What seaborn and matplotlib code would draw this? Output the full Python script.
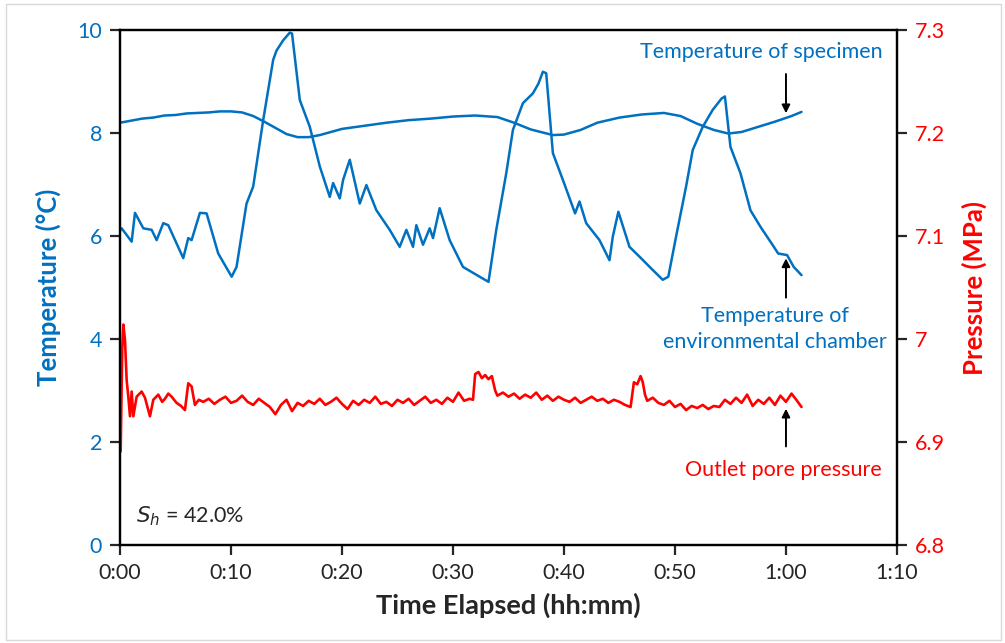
import matplotlib
matplotlib.use("Agg")
import matplotlib.pyplot as plt
import matplotlib.ticker as mticker
import seaborn as sns
import pandas as pd

# time in minutes
spec_t = [0, 1, 2, 3, 4, 5, 6, 7, 8, 9, 10, 11, 12, 13, 14, 15, 16, 17, 18, 19, 20, 22,
          24, 26, 28, 30, 32, 34, 35.5, 37, 39, 40, 41.5, 43, 45, 47, 49, 50.5, 52,
          53.5, 54.8, 56, 57.5, 59, 60.5, 61.4]
spec_T = [8.2, 8.24, 8.28, 8.3, 8.34, 8.35, 8.38, 8.39, 8.4, 8.42, 8.42, 8.4, 8.33,
          8.22, 8.1, 7.98, 7.92, 7.92, 7.96, 8.02, 8.08, 8.14, 8.2, 8.25, 8.28, 8.32,
          8.34, 8.31, 8.2, 8.07, 7.96, 7.97, 8.06, 8.2, 8.3, 8.36, 8.39, 8.33, 8.18,
          8.06, 7.99, 8.02, 8.12, 8.22, 8.33, 8.41]

cham_t = [0, 0.15, 1.05, 1.35, 2.1, 2.85, 3.3, 3.9, 4.35, 5.7, 6.15, 6.45, 7.2, 7.8,
          8.85, 10.06, 10.5, 11.4, 12.0, 12.9, 13.8, 14.1, 14.7, 15.3, 15.5, 16.2,
          17.1, 18.0, 18.9, 19.2, 19.8, 20.1, 20.7, 21.6, 22.2, 23.1, 24.3, 25.2,
          25.8, 26.4, 26.7, 27.3, 27.9, 28.2, 28.8, 29.7, 30.9, 32.4, 33.2, 33.9,
          34.8, 35.4, 36.3, 37.2, 37.7, 38.1, 38.4, 39.0, 39.9, 41.0, 41.4, 42.0,
          43.2, 44.1, 44.4, 44.9, 45.9, 46.8, 48.0, 48.9, 49.4, 50.1, 51.0, 51.6,
          52.5, 53.4, 54.2, 54.5, 55.0, 55.9, 56.8, 57.7, 58.6, 59.3, 60.1, 60.7, 61.4]
cham_T = [6.1, 6.15, 5.89, 6.45, 6.15, 6.12, 5.92, 6.25, 6.21, 5.57, 5.96, 5.92, 6.45,
          6.44, 5.66, 5.21, 5.4, 6.63, 6.96, 8.25, 9.42, 9.6, 9.8, 9.95, 9.93, 8.64,
          8.12, 7.35, 6.76, 7.03, 6.73, 7.09, 7.48, 6.63, 6.99, 6.5, 6.12, 5.79,
          6.12, 5.79, 6.21, 5.83, 6.15, 5.96, 6.54, 5.92, 5.4, 5.21, 5.11, 6.12,
          7.22, 8.06, 8.58, 8.77, 8.96, 9.19, 9.16, 7.61, 7.09, 6.44, 6.67, 6.25,
          5.92, 5.53, 5.99, 6.47, 5.79, 5.6, 5.34, 5.15, 5.21, 5.99, 6.96, 7.67,
          8.12, 8.45, 8.67, 8.71, 7.73, 7.22, 6.5, 6.18, 5.89, 5.66, 5.63, 5.4, 5.24]

pres_t = ([0, 0.06, 0.2, 0.3, 0.45, 0.6, 0.75, 0.9, 1.05, 1.2, 1.5, 1.95, 2.25, 2.7,
           3.0, 3.45, 3.8, 4.05, 4.35, 4.65, 5.1, 5.5, 5.85, 6.15, 6.45, 6.75, 7.1]
          + [7.5, 8, 8.5, 9, 9.5, 10, 10.5, 11, 11.5, 12, 12.5, 13, 13.5, 14, 14.5, 15,
             15.5, 16, 16.5, 17, 17.5, 18, 18.5, 19, 19.5, 20, 20.5, 21, 21.5, 22, 22.5,
             23, 23.5, 24, 24.5, 25, 25.5, 26, 26.5, 27, 27.5, 28, 28.5, 29, 29.5, 30,
             30.5, 31, 31.5]
          + [31.8, 32.0, 32.3, 32.6, 32.9, 33.2, 33.5, 33.8, 34.0]
          + [34.5, 35, 35.5, 36, 36.5, 37, 37.5, 38, 38.5, 39, 39.5, 40, 40.5, 41, 41.5,
             42, 42.5, 43, 43.5, 44, 44.5, 45, 45.5]
          + [46.0, 46.3, 46.6, 46.9, 47.1, 47.3]
          + [47.5, 48, 48.5, 49, 49.5, 50, 50.5, 51, 51.5, 52, 52.5, 53, 53.5, 54, 54.5,
             55, 55.5, 56, 56.5, 57, 57.5, 58, 58.5, 59, 59.5, 60, 60.5, 61, 61.4])
pres_P = ([6.89, 6.891, 6.99, 7.014, 6.999, 6.96, 6.944, 6.925, 6.949, 6.925, 6.944,
           6.949, 6.943, 6.925, 6.941, 6.946, 6.939, 6.942, 6.947, 6.944, 6.938, 6.935,
           6.931, 6.957, 6.954, 6.936, 6.941]
          + [6.939, 6.942, 6.937, 6.941, 6.944, 6.938, 6.940, 6.945, 6.939, 6.936,
             6.942, 6.938, 6.934, 6.927, 6.936, 6.941, 6.930, 6.938, 6.935, 6.940,
             6.937, 6.942, 6.936, 6.939, 6.943, 6.937, 6.932, 6.940, 6.936, 6.941,
             6.938, 6.944, 6.937, 6.939, 6.935, 6.941, 6.938, 6.942, 6.936, 6.940,
             6.944, 6.938, 6.941, 6.937, 6.943, 6.939, 6.948, 6.940, 6.942]
          + [6.941, 6.966, 6.968, 6.962, 6.965, 6.961, 6.964, 6.950, 6.945]
          + [6.948, 6.944, 6.947, 6.942, 6.946, 6.943, 6.948, 6.941, 6.945, 6.940,
             6.944, 6.941, 6.939, 6.943, 6.938, 6.941, 6.944, 6.940, 6.942, 6.938,
             6.941, 6.939, 6.936]
          + [6.934, 6.958, 6.956, 6.964, 6.958, 6.946]
          + [6.940, 6.943, 6.938, 6.936, 6.940, 6.934, 6.937, 6.931, 6.935, 6.933,
             6.936, 6.932, 6.935, 6.934, 6.941, 6.937, 6.943, 6.938, 6.946, 6.935,
             6.941, 6.937, 6.943, 6.936, 6.945, 6.939, 6.947, 6.940, 6.934])

x_ticks = [0, 10, 20, 30, 40, 50, 60, 70]

blue = "#0070C0"
red = "#FF0000"

sns.set_style("ticks")
plt.rcParams['font.family'] = ['Lato', 'DejaVu Sans']

fig = plt.figure(figsize=(10.05, 6.43), dpi=100)
ax = fig.add_axes([0.1194, 0.1524, 0.7731, 0.8009])
ax2 = ax.twinx()

spec = pd.DataFrame({"t": spec_t, "T": spec_T})
cham = pd.DataFrame({"t": cham_t, "T": cham_T})
pres = pd.DataFrame({"t": pres_t, "P": pres_P})

sns.lineplot(data=spec, x="t", y="T", ax=ax, color=blue, lw=1.8)
sns.lineplot(data=cham, x="t", y="T", ax=ax, color=blue, lw=1.8)
sns.lineplot(data=pres, x="t", y="P", ax=ax2, color=red, lw=1.9)

ax.set_xlim(0, 70)
ax.set_ylim(0, 10)
ax2.set_ylim(6.8, 7.3)
ax.set_xticks(x_ticks)
ax.xaxis.set_major_formatter(mticker.FuncFormatter(lambda v, p: f"{int(v)//60}:{int(v)%60:02d}"))
ax.set_yticks([0, 2, 4, 6, 8, 10])
ax2.set_yticks([6.8, 6.9, 7.0, 7.1, 7.2, 7.3])
ax2.set_yticklabels(["6.8", "6.9", "7", "7.1", "7.2", "7.3"])

for a in (ax, ax2):
    for s in a.spines.values():
        s.set_visible(True)
        s.set_color("black")
        s.set_linewidth(1.6)
    a.tick_params(direction="out", length=7, width=1.6, labelsize=15.5, pad=6)

ax.tick_params(axis="y", labelcolor=blue)
ax2.tick_params(axis="y", labelcolor=red)

ax.set_xlabel("Time Elapsed (hh:mm)", fontsize=19.5, fontweight="bold", labelpad=7)
ax.set_ylabel("Temperature (°C)", fontsize=18.5, fontweight="bold", color=blue, labelpad=12)
ax2.set_ylabel("Pressure (MPa)", fontsize=18.5, fontweight="bold", color=red, labelpad=12)

# annotations
ax.text(57.8, 9.57, "Temperature of specimen", color=blue, fontsize=15.5, ha="center", va="center")
ax.annotate("", xy=(60, 8.33), xytext=(60, 9.2),
            arrowprops=dict(arrowstyle="-|>", color="black", lw=1.4, mutation_scale=12))
ax.text(59.0, 4.64, "Temperature of\nenvironmental chamber", color=blue, fontsize=15.5,
        ha="center", va="top", linespacing=1.4)
ax.annotate("", xy=(60, 5.62), xytext=(60, 4.75),
            arrowprops=dict(arrowstyle="-|>", color="black", lw=1.4, mutation_scale=12))
ax2.text(59.8, 6.873, "Outlet pore pressure", color=red, fontsize=15.5, ha="center", va="center")
ax2.annotate("", xy=(60, 6.935), xytext=(60, 6.893),
             arrowprops=dict(arrowstyle="-|>", color="black", lw=1.4, mutation_scale=12))
ax.text(1.4, 0.55, r"$S_h$ = 42.0%", fontsize=15.5, ha="left", va="center")

fig.patches.append(plt.Rectangle((0.006, 0.004), 0.99, 0.99, transform=fig.transFigure,
                                 fill=False, edgecolor="#d9d9d9", lw=1))

fig.savefig("out.png", dpi=100)
